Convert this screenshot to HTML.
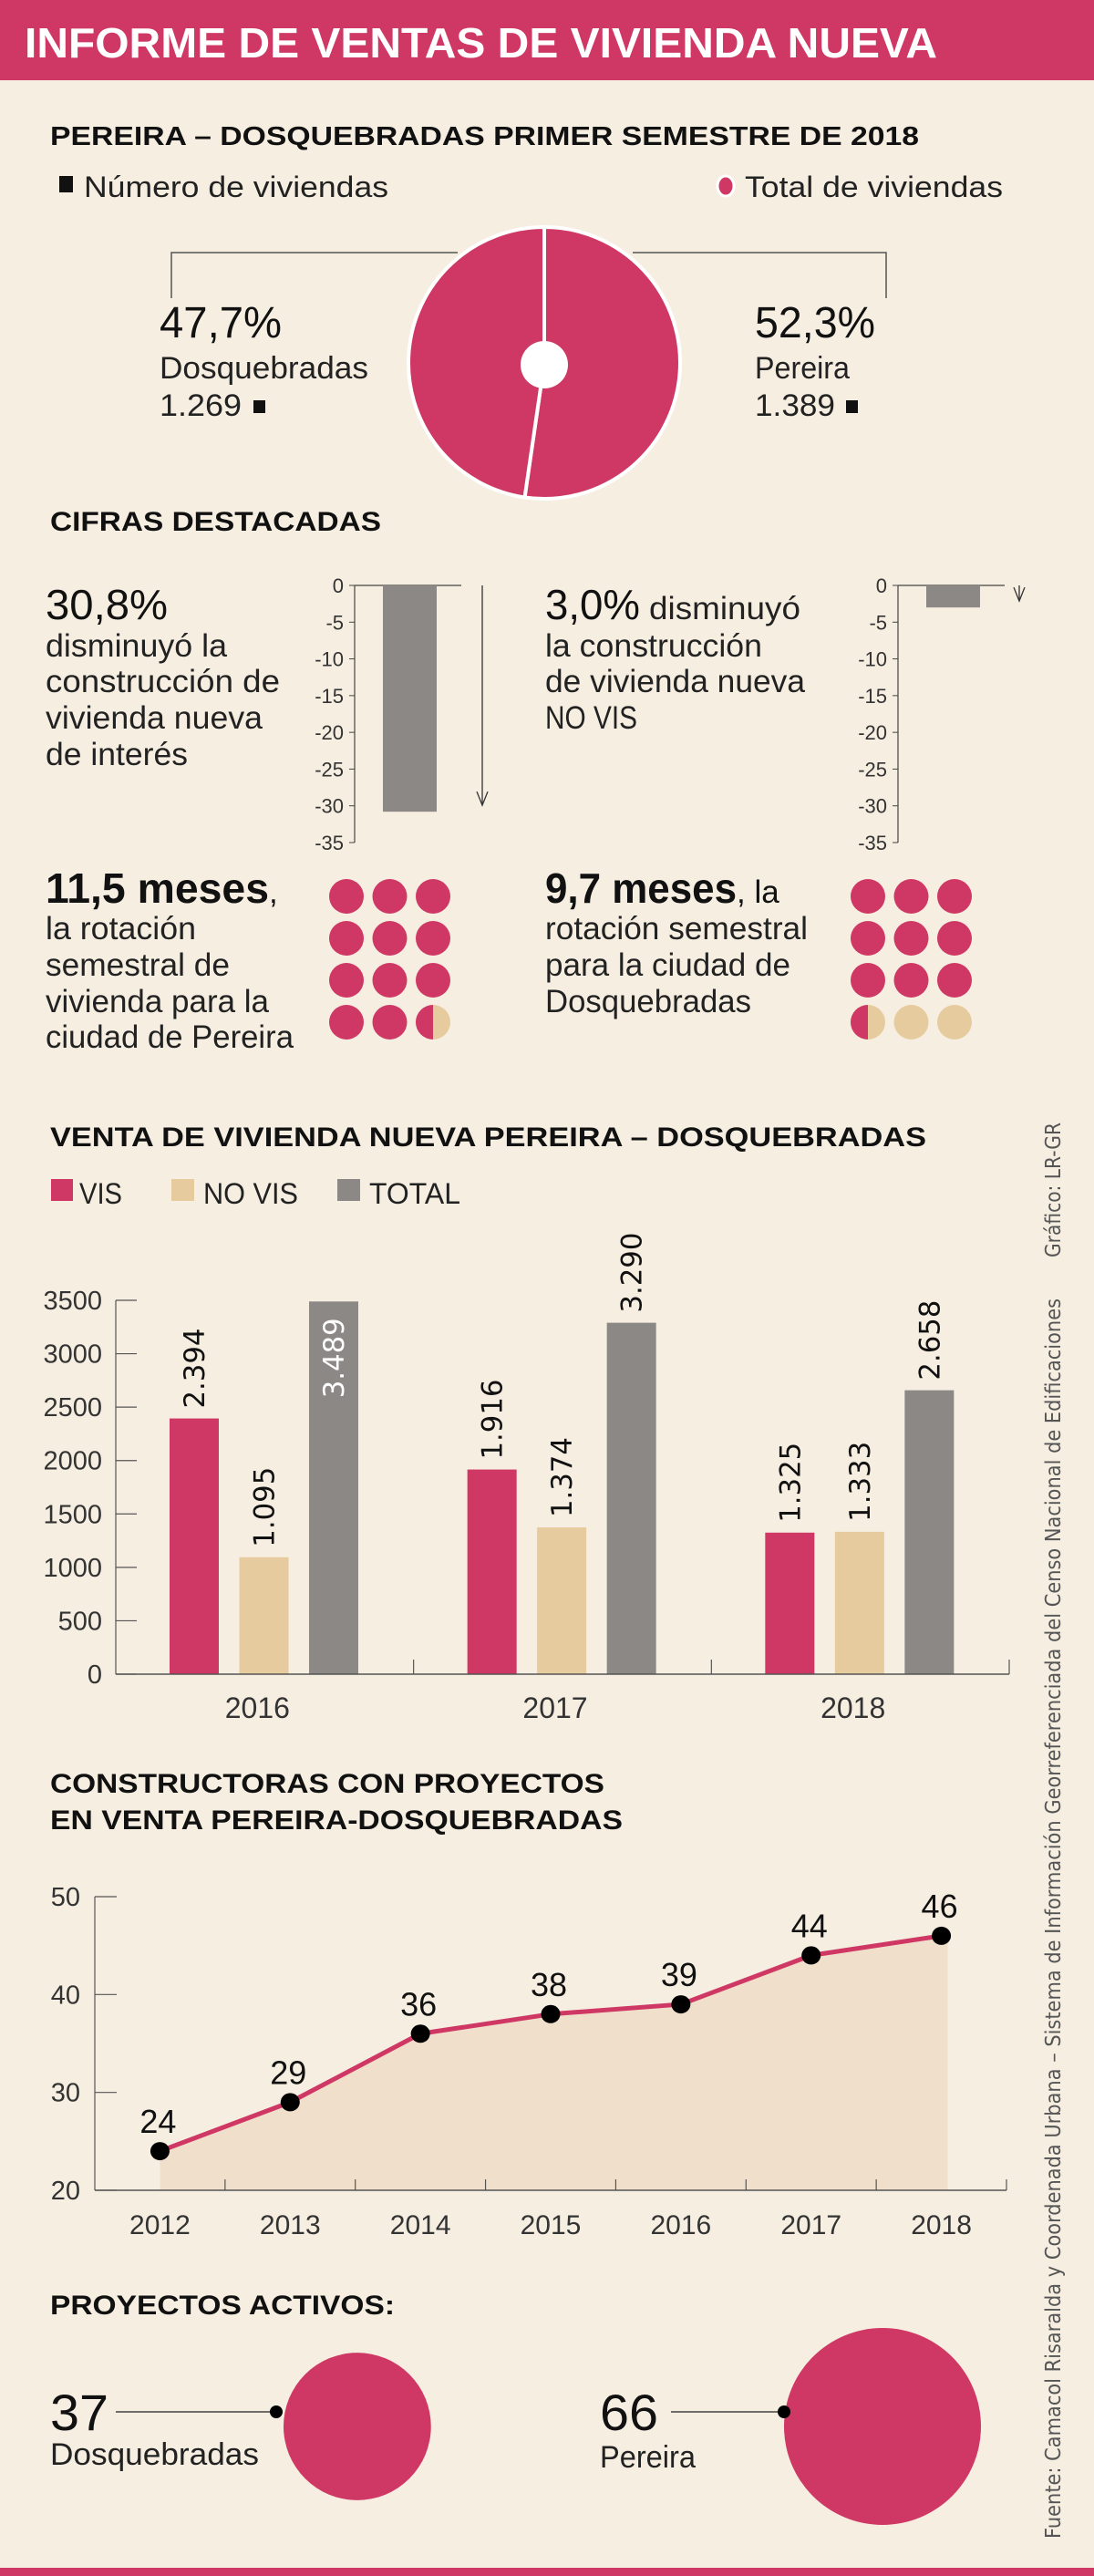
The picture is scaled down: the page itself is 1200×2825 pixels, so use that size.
<!DOCTYPE html>
<html><head><meta charset="utf-8"><style>
html,body{margin:0;padding:0;background:#F6EEE1;}
svg{display:block;}
text{font-family:"Liberation Sans Narrow","Liberation Sans",sans-serif;}
.b{font-weight:bold;}
.dv{font-family:"DejaVu Sans",sans-serif;}
</style></head><body>
<svg id="svg" width="1200" height="2825" viewBox="0 0 1200 2825" xmlns="http://www.w3.org/2000/svg">
<rect x="0" y="0" width="1200" height="2825" fill="#F6EEE1"/>
<rect x="0" y="0" width="1200" height="88" fill="#CF3864"/>
<text x="27" y="63" font-size="46" class="b" fill="#fff" textLength="1001" lengthAdjust="spacingAndGlyphs">INFORME DE VENTAS DE VIVIENDA NUEVA</text>
<rect x="0" y="2816" width="1200" height="9" fill="#CF3864"/>

<text x="55" y="159" font-size="29" class="b" fill="#111" textLength="953" lengthAdjust="spacingAndGlyphs">PEREIRA – DOSQUEBRADAS PRIMER SEMESTRE DE 2018</text>
<rect x="65" y="193" width="15" height="18" fill="#111"/>
<text x="92" y="216" font-size="32" fill="#222" textLength="334" lengthAdjust="spacingAndGlyphs">Número de viviendas</text>
<ellipse cx="796" cy="204" rx="9" ry="11" fill="#CF3864" stroke="#fff" stroke-width="3"/>
<text x="817" y="216" font-size="32" fill="#222" textLength="283" lengthAdjust="spacingAndGlyphs">Total de viviendas</text>
<polyline points="188,327 188,277 502,277" fill="none" stroke="#555" stroke-width="1.5"/>
<polyline points="694,277 972,277 972,327" fill="none" stroke="#555" stroke-width="1.5"/>
<g id="pie"></g>
<text x="175" y="370" font-size="48" fill="#111" textLength="134" lengthAdjust="spacingAndGlyphs">47,7%</text>
<text x="175" y="415" font-size="34" fill="#222" textLength="229" lengthAdjust="spacingAndGlyphs">Dosquebradas</text>
<text x="175" y="456" font-size="34" fill="#222" textLength="90" lengthAdjust="spacingAndGlyphs">1.269</text>
<rect x="278" y="439" width="13" height="14" fill="#111"/>
<text x="828" y="370" font-size="48" fill="#111" textLength="132" lengthAdjust="spacingAndGlyphs">52,3%</text>
<text x="828" y="415" font-size="34" fill="#222" textLength="104" lengthAdjust="spacingAndGlyphs">Pereira</text>
<text x="828" y="456" font-size="34" fill="#222" textLength="88" lengthAdjust="spacingAndGlyphs">1.389</text>
<rect x="928" y="439" width="13" height="14" fill="#111"/>

<text x="55" y="582" font-size="30" class="b" fill="#111" textLength="363" lengthAdjust="spacingAndGlyphs">CIFRAS DESTACADAS</text>
<text x="50" y="679" font-size="46" fill="#111" textLength="134" lengthAdjust="spacingAndGlyphs">30,8%</text>
<text x="50" y="720" font-size="35" fill="#222" textLength="199" lengthAdjust="spacingAndGlyphs">disminuyó la</text>
<text x="50" y="759" font-size="35" fill="#222" textLength="257" lengthAdjust="spacingAndGlyphs">construcción de</text>
<text x="50" y="799" font-size="35" fill="#222" textLength="238" lengthAdjust="spacingAndGlyphs">vivienda nueva</text>
<text x="50" y="839" font-size="35" fill="#222" textLength="156" lengthAdjust="spacingAndGlyphs">de interés</text>
<text x="598" y="679" font-size="46" fill="#111" textLength="104" lengthAdjust="spacingAndGlyphs">3,0%</text>
<text x="712" y="679" font-size="35" fill="#222" textLength="166" lengthAdjust="spacingAndGlyphs">disminuyó</text>
<text x="598" y="720" font-size="35" fill="#222" textLength="238" lengthAdjust="spacingAndGlyphs">la construcción</text>
<text x="598" y="759" font-size="35" fill="#222" textLength="285" lengthAdjust="spacingAndGlyphs">de vivienda nueva</text>
<text x="598" y="799" font-size="35" fill="#222" textLength="101" lengthAdjust="spacingAndGlyphs">NO VIS</text>
<g id="mini1"></g>
<g id="mini2"></g>

<text x="50" y="990" font-size="46" fill="#111"><tspan textLength="245" lengthAdjust="spacingAndGlyphs" font-weight="bold">11,5 meses</tspan><tspan font-size="35">,</tspan></text>
<text x="50" y="1030" font-size="35" fill="#222" textLength="165" lengthAdjust="spacingAndGlyphs">la rotación</text>
<text x="50" y="1070" font-size="35" fill="#222" textLength="202" lengthAdjust="spacingAndGlyphs">semestral de</text>
<text x="50" y="1110" font-size="35" fill="#222" textLength="245" lengthAdjust="spacingAndGlyphs">vivienda para la</text>
<text x="50" y="1149" font-size="35" fill="#222" textLength="272" lengthAdjust="spacingAndGlyphs">ciudad de Pereira</text>
<text x="598" y="990" font-size="46" fill="#111"><tspan textLength="210" lengthAdjust="spacingAndGlyphs" font-weight="bold">9,7 meses</tspan><tspan font-size="35">, la</tspan></text>
<text x="598" y="1030" font-size="35" fill="#222" textLength="288" lengthAdjust="spacingAndGlyphs">rotación semestral</text>
<text x="598" y="1070" font-size="35" fill="#222" textLength="269" lengthAdjust="spacingAndGlyphs">para la ciudad de</text>
<text x="598" y="1110" font-size="35" fill="#222" textLength="226" lengthAdjust="spacingAndGlyphs">Dosquebradas</text>
<g id="dots1"></g>
<g id="dots2"></g>

<text x="55" y="1257" font-size="30" class="b" fill="#111" textLength="961" lengthAdjust="spacingAndGlyphs">VENTA DE VIVIENDA NUEVA PEREIRA – DOSQUEBRADAS</text>
<rect x="56" y="1293" width="24" height="24" fill="#CF3864"/>
<text x="87" y="1320" font-size="32" fill="#222" textLength="47" lengthAdjust="spacingAndGlyphs">VIS</text>
<rect x="188" y="1293" width="25" height="24" fill="#E6CB9E"/>
<text x="223" y="1320" font-size="32" fill="#222" textLength="104" lengthAdjust="spacingAndGlyphs">NO VIS</text>
<rect x="370" y="1293" width="25" height="24" fill="#8C8886"/>
<text x="405" y="1320" font-size="32" fill="#222" textLength="100" lengthAdjust="spacingAndGlyphs">TOTAL</text>
<g id="bars"></g>

<text x="55" y="1966" font-size="30" class="b" fill="#111" textLength="608" lengthAdjust="spacingAndGlyphs">CONSTRUCTORAS CON PROYECTOS</text>
<text x="55" y="2006" font-size="30" class="b" fill="#111" textLength="628" lengthAdjust="spacingAndGlyphs">EN VENTA PEREIRA-DOSQUEBRADAS</text>
<g id="line"></g>

<text x="55" y="2538" font-size="30" class="b" fill="#111" textLength="378" lengthAdjust="spacingAndGlyphs">PROYECTOS ACTIVOS:</text>
<g id="bubbles"></g>
<text x="55" y="2665" font-size="56" fill="#111" textLength="64" lengthAdjust="spacingAndGlyphs">37</text>
<text x="55" y="2703" font-size="34" fill="#222" textLength="229" lengthAdjust="spacingAndGlyphs">Dosquebradas</text>
<text x="658" y="2665" font-size="56" fill="#111" textLength="64" lengthAdjust="spacingAndGlyphs">66</text>
<text x="658" y="2706" font-size="34" fill="#222" textLength="105" lengthAdjust="spacingAndGlyphs">Pereira</text>

<text class="dv" transform="translate(1163,1379) rotate(-90)" font-size="23" fill="#555" textLength="148" lengthAdjust="spacingAndGlyphs">Gráfico: LR-GR</text>
<text class="dv" transform="translate(1163,2784) rotate(-90)" font-size="23" fill="#555" textLength="1360" lengthAdjust="spacingAndGlyphs">Fuente: Camacol Risaralda y Coordenada Urbana – Sistema de Información Georreferenciada del Censo Nacional de Edificaciones</text>
</svg>
<script>
var NS = "http://www.w3.org/2000/svg";
var PINK = "#CF3864", TAN = "#E6CB9E", GREY = "#8C8886";

var pieLabels = ["Pereira", "Dosquebradas"];
var pieValues = [52.3, 47.7];
var dropLabels = ["VIS", "NO VIS"];
var dropValues = [-30.8, -3.0];
var dropTicks = [0, -5, -10, -15, -20, -25, -30, -35];
var rotationCities = ["Pereira", "Dosquebradas"];
var rotationMonths = [11.5, 9.7];
var barYears = ["2016", "2017", "2018"];
var barSeries = ["VIS", "NO VIS", "TOTAL"];
var visValues = [2394, 1916, 1325];
var noVisValues = [1095, 1374, 1333];
var totalValues = [3489, 3290, 2658];
var visLabels = ["2.394", "1.916", "1.325"];
var noVisLabels = ["1.095", "1.374", "1.333"];
var totalLabels = ["3.489", "3.290", "2.658"];
var barTicks = [0, 500, 1000, 1500, 2000, 2500, 3000, 3500];
var lineYears = ["2012", "2013", "2014", "2015", "2016", "2017", "2018"];
var lineValues = [24, 29, 36, 38, 39, 44, 46];
var lineTicks = [20, 30, 40, 50];
var projectCities = ["Dosquebradas", "Pereira"];
var projectValues = [37, 66];

function mk(tag, parent, attrs) {
  var e = document.createElementNS(NS, tag);
  for (var k in attrs) e.setAttribute(k, attrs[k]);
  parent.appendChild(e);
  return e;
}

(function () {
  var g = document.getElementById("pie");
  var cx = 597, cy = 398, r = 149;
  var total = pieValues.reduce(function (a, b) { return a + b; }, 0);
  var a0 = -Math.PI / 2;
  for (var i = 0; i < pieValues.length; i++) {
    var a1 = a0 + pieValues[i] / total * Math.PI * 2;
    var large = (a1 - a0) > Math.PI ? 1 : 0;
    var d = "M" + cx + "," + cy + " L" + (cx + r * Math.cos(a0)) + "," + (cy + r * Math.sin(a0)) +
      " A" + r + "," + r + " 0 " + large + " 1 " + (cx + r * Math.cos(a1)) + "," + (cy + r * Math.sin(a1)) + " Z";
    var p = mk("path", g, { d: d, fill: PINK, stroke: "#fff", "stroke-width": 4 });
    
    
    a0 = a1;
  }
  var h = mk("circle", g, { cx: cx, cy: cy + 2, r: 26, fill: "#fff" });
  
  
})();

function drawDrop(id, idx, axX, barX, arrowX) {
  var g = document.getElementById(id);
  var y0 = 642, k = 282 / 35;
  function ys(v) { return y0 - v * k; }
  var ax = mk("line", g, { x1: axX, y1: y0, x2: axX, y2: ys(-35), stroke: "#444", "stroke-width": 1.2 });
  
  
  var top = mk("line", g, { x1: axX, y1: y0, x2: axX + 117, y2: y0, stroke: "#444", "stroke-width": 1.2 });
  
  
  for (var i = 0; i < dropTicks.length; i++) {
    var t = mk("text", g, { x: axX - 12, y: ys(dropTicks[i]) + 8, "font-size": 22, "text-anchor": "end", fill: "#333" });
    t.textContent = String(dropTicks[i]);
    
    
    var tm = mk("line", g, { x1: axX - 6, y1: ys(dropTicks[i]), x2: axX, y2: ys(dropTicks[i]), stroke: "#444", "stroke-width": 1 });
    
    
  }
  var v = dropValues[idx];
  var b = mk("rect", g, { x: barX, y: y0, width: 59, height: ys(v) - y0, fill: GREY });
  
  
  var al = mk("line", g, { x1: arrowX, y1: y0, x2: arrowX, y2: ys(v) - 7, stroke: "#333", "stroke-width": 1.3 });
  
  
  var ah = mk("polyline", g, { points: (arrowX - 6) + "," + (ys(v) - 22) + " " + arrowX + "," + (ys(v) - 7) + " " + (arrowX + 6) + "," + (ys(v) - 22), fill: "none", stroke: "#333", "stroke-width": 1.3 });
  
  
}
drawDrop("mini1", 0, 389, 420, 529);
drawDrop("mini2", 1, 985, 1016, 1118);

function drawDots(id, idx, x0) {
  var g = document.getElementById(id);
  var m = rotationMonths[idx];
  var n = 0;
  for (var row = 0; row < 4; row++) {
    for (var col = 0; col < 3; col++) {
      var cx = x0 + col * 47.5, cy = 983 + row * 46, r = 19;
      var fillAmt = Math.max(0, Math.min(1, m - n));
      var c = mk("circle", g, { cx: cx, cy: cy, r: r, fill: fillAmt >= 1 ? PINK : TAN });
      
      
      if (fillAmt > 0 && fillAmt < 1) {
        var half = mk("path", g, { d: "M" + cx + "," + (cy - r) + " A" + r + "," + r + " 0 0 0 " + cx + "," + (cy + r) + " Z", fill: PINK });
        
        
      }
      n++;
    }
  }
}
drawDots("dots1", 0, 380);
drawDots("dots2", 1, 952);

(function () {
  var g = document.getElementById("bars");
  var x0 = 127, x1 = 1107, y0 = 1836, k = 410 / 3500;
  function ys(v) { return y0 - v * k; }
  var gw = (x1 - x0) / barYears.length;
  for (var i = 0; i < barTicks.length; i++) {
    var t = mk("text", g, { x: 112, y: ys(barTicks[i]) + 10, "font-size": 29, "text-anchor": "end", fill: "#333" });
    t.textContent = String(barTicks[i]);
    
    
    var tm = mk("line", g, { x1: x0, y1: ys(barTicks[i]), x2: x0 + 23, y2: ys(barTicks[i]), stroke: "#555", "stroke-width": 1.2 });
    
    
  }
  var ya = mk("line", g, { x1: x0, y1: ys(3500), x2: x0, y2: y0, stroke: "#555", "stroke-width": 1.2 });
  
  
  var series = [visValues, noVisValues, totalValues];
  var labels = [visLabels, noVisLabels, totalLabels];
  var colors = [PINK, TAN, GREY];
  for (var gi = 0; gi < barYears.length; gi++) {
    var gs = x0 + gi * gw;
    for (var s = 0; s < 3; s++) {
      var bx = gs + 59 + s * 76.5, bw = 54;
      var v = series[s][gi];
      var r = mk("rect", g, { x: bx, y: ys(v), width: bw, height: y0 - ys(v), fill: colors[s] });
      
      
      var cx = bx + bw / 2 + 11;
      var inside = (ys(v) < 1440);
      var ty = inside ? ys(v) + 18 : ys(v) - 11;
      var lt = mk("text", g, { transform: "translate(" + cx + "," + ty + ") rotate(-90)", "font-size": 31, "text-anchor": inside ? "end" : "start", fill: inside ? "#fff" : "#111", "class": "dv", textLength: 88, lengthAdjust: "spacingAndGlyphs" });
      lt.textContent = labels[s][gi];
      
      
    }
    var yl = mk("text", g, { x: gs + gw / 2 - 8, y: 1884, "font-size": 32, "text-anchor": "middle", fill: "#333" });
    yl.textContent = barYears[gi];
    
    
    var sep = mk("line", g, { x1: gs + gw, y1: y0 - 16, x2: gs + gw, y2: y0, stroke: "#555", "stroke-width": 1.2 });
    
    
  }
  var xa = mk("line", g, { x1: x0, y1: y0, x2: x1, y2: y0, stroke: "#555", "stroke-width": 1.5 });
  
  
})();

(function () {
  var g = document.getElementById("line");
  var x0 = 104, x1 = 1104, y0 = 2402, k = 322 / 30;
  function ys(v) { return y0 - (v - 20) * k; }
  var step = (x1 - x0) / lineYears.length;
  function xs(i) { return x0 + step * (i + 0.5); }
  var d = "M" + xs(0) + "," + y0;
  for (var i = 0; i < lineValues.length; i++) d += " L" + xs(i) + "," + ys(lineValues[i]);
  var last = lineValues.length - 1;
  d += " L" + (xs(last) + 7) + "," + ys(lineValues[last]) + " L" + (xs(last) + 7) + "," + y0 + " Z";
  var area = mk("path", g, { d: d, fill: "#F0DFCA" });
  
  
  for (var t = 0; t < lineTicks.length; t++) {
    var tl = mk("text", g, { x: 88, y: ys(lineTicks[t]) + 10, "font-size": 29, "text-anchor": "end", fill: "#333" });
    tl.textContent = String(lineTicks[t]);
    
    
    var tm = mk("line", g, { x1: x0, y1: ys(lineTicks[t]), x2: x0 + 24, y2: ys(lineTicks[t]), stroke: "#555", "stroke-width": 1.2 });
    
    
  }
  var ya = mk("line", g, { x1: x0, y1: ys(50), x2: x0, y2: y0, stroke: "#555", "stroke-width": 1.2 });
  
  
  var xa = mk("line", g, { x1: x0, y1: y0, x2: x1, y2: y0, stroke: "#555", "stroke-width": 1.5 });
  
  
  for (var j = 1; j <= lineYears.length; j++) {
    var tk = mk("line", g, { x1: x0 + step * j, y1: y0 - 12, x2: x0 + step * j, y2: y0, stroke: "#555", "stroke-width": 1.2 });
    
    
  }
  var pts = [];
  for (var i2 = 0; i2 < lineValues.length; i2++) pts.push(xs(i2) + "," + ys(lineValues[i2]));
  var pl = mk("polyline", g, { points: pts.join(" "), fill: "none", stroke: PINK, "stroke-width": 5, "stroke-linejoin": "round" });
  
  
  for (var i3 = 0; i3 < lineValues.length; i3++) {
    var c = mk("ellipse", g, { cx: xs(i3), cy: ys(lineValues[i3]), rx: 10.5, ry: 10, fill: "#000" });
    
    
    var lb = mk("text", g, { x: xs(i3) - 2, y: ys(lineValues[i3]) - 20, "font-size": 36, "text-anchor": "middle", fill: "#111", "font-family": "Liberation Sans, sans-serif" });
    lb.textContent = String(lineValues[i3]);
    
    
    var xl = mk("text", g, { x: xs(i3), y: 2450, "font-size": 30, "text-anchor": "middle", fill: "#333" });
    xl.textContent = lineYears[i3];
    
    
  }
})();

(function () {
  var g = document.getElementById("bubbles");
  var lineStart = [127, 736];
  var dotX = [303, 860];
  var maxV = Math.max.apply(null, projectValues);
  for (var i = 0; i < projectValues.length; i++) {
    var r = 108 * Math.sqrt(projectValues[i] / maxV);
    var cx = dotX[i] + r + (i === 0 ? 8 : 0);
    var c = mk("circle", g, { cx: cx, cy: 2661, r: r, fill: PINK });
    
    
    var l = mk("line", g, { x1: lineStart[i], y1: 2645, x2: dotX[i], y2: 2645, stroke: "#222", "stroke-width": 1.3 });
    
    
    var d = mk("circle", g, { cx: dotX[i], cy: 2645, r: 7, fill: "#000" });
    
    
  }
})();
</script>
</body></html>
